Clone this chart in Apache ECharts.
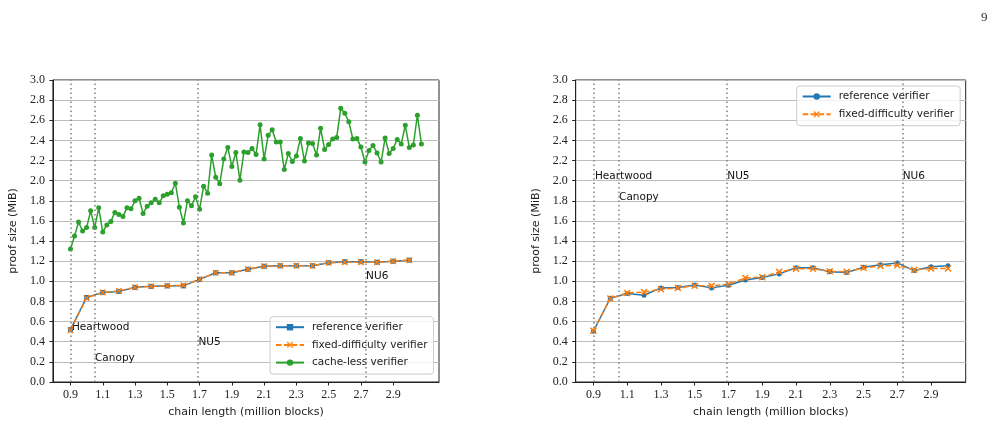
<!DOCTYPE html>
<html>
<head>
<meta charset="utf-8">
<script src="https://cdn.jsdelivr.net/npm/echarts@6/dist/echarts.min.js"></script>
<style>
  html, body { margin: 0; padding: 0; background: #fff; }
  .panel { position: absolute; top: 0; width: 503px; height: 427px; }
  #left { left: 0; }
  #right { left: 503px; }
</style>
</head>
<body>
<div id="left" class="panel"></div>
<div id="right" class="panel"></div>
<script>
// chain length (million blocks) for the sampled verifiers
const blockX = [0.9, 1.0, 1.1, 1.2, 1.3, 1.4, 1.5, 1.6, 1.7, 1.8, 1.9,
  2.0, 2.1, 2.2, 2.3, 2.4, 2.5, 2.6, 2.7, 2.8, 2.9, 3.0];

// cache-less verifier is sampled more densely
const cachelessX = [0.9, 0.925, 0.95, 0.975, 1.0, 1.025, 1.05, 1.075, 1.1, 1.125,
  1.15, 1.175, 1.2, 1.225, 1.25, 1.275, 1.3, 1.325, 1.35, 1.375,
  1.4, 1.425, 1.45, 1.475, 1.5, 1.525, 1.55, 1.575, 1.6, 1.625,
  1.65, 1.675, 1.7, 1.725, 1.75, 1.775, 1.8, 1.825, 1.85, 1.875,
  1.9, 1.925, 1.95, 1.975, 2.0, 2.025, 2.05, 2.075, 2.1, 2.125,
  2.15, 2.175, 2.2, 2.225, 2.25, 2.275, 2.3, 2.325, 2.35, 2.375,
  2.4, 2.425, 2.45, 2.475, 2.5, 2.525, 2.55, 2.575, 2.6, 2.625,
  2.65, 2.675, 2.7, 2.725, 2.75, 2.775, 2.8, 2.825, 2.85, 2.875,
  2.9, 2.925, 2.95, 2.975, 3.0, 3.025, 3.05, 3.075];

// left panel (MiB)
const refLeft = [0.52, 0.84, 0.89, 0.90, 0.94, 0.95, 0.955, 0.955, 1.02, 1.085, 1.085,
  1.12, 1.15, 1.155, 1.155, 1.155, 1.185, 1.195, 1.195, 1.19, 1.2, 1.21];
const fixedLeft = [0.515, 0.835, 0.89, 0.905, 0.94, 0.95, 0.955, 0.96, 1.02, 1.085, 1.085,
  1.12, 1.15, 1.155, 1.155, 1.155, 1.185, 1.19, 1.19, 1.19, 1.2, 1.21];
const cachelessLeft = [1.32, 1.45, 1.59, 1.50, 1.535, 1.70, 1.535, 1.73, 1.49, 1.56,
  1.595, 1.685, 1.665, 1.645, 1.73, 1.72, 1.80, 1.825, 1.675, 1.745,
  1.78, 1.815, 1.78, 1.85, 1.865, 1.88, 1.975, 1.735, 1.58, 1.80,
  1.75, 1.84, 1.715, 1.945, 1.875, 2.255, 2.035, 1.97, 2.215, 2.33,
  2.14, 2.28, 2.005, 2.285, 2.28, 2.32, 2.26, 2.555, 2.215, 2.45,
  2.505, 2.385, 2.385, 2.11, 2.27, 2.19, 2.245, 2.42, 2.195, 2.375,
  2.37, 2.255, 2.52, 2.31, 2.36, 2.415, 2.43, 2.72, 2.67, 2.585,
  2.415, 2.42, 2.335, 2.185, 2.30, 2.35, 2.275, 2.185, 2.425, 2.27,
  2.32, 2.41, 2.365, 2.55, 2.33, 2.355, 2.65, 2.365];

// right panel (MiB)
const refRight = [0.505, 0.832, 0.878, 0.862, 0.935, 0.938, 0.963, 0.935, 0.961, 1.014, 1.038,
  1.074, 1.135, 1.135, 1.094, 1.087, 1.14, 1.165, 1.183, 1.107, 1.144, 1.155];
const fixedRight = [0.51, 0.829, 0.885, 0.893, 0.922, 0.935, 0.955, 0.955, 0.971, 1.034, 1.041,
  1.094, 1.125, 1.125, 1.10, 1.094, 1.134, 1.152, 1.16, 1.114, 1.127, 1.127];

// network upgrades
const upgradeNames = ['Heartwood', 'Canopy', 'NU5', 'NU6'];
const upgradeX = [0.903, 1.046, 1.687, 2.726];
const upgradeLabelYLeft = [0.545, 0.232, 0.397, 1.046];
const upgradeLabelYRight = [2.045, 1.833, 2.045, 2.045];

const xTicks = [0.9, 1.1, 1.3, 1.5, 1.7, 1.9, 2.1, 2.3, 2.5, 2.7, 2.9];

const BLUE = '#1f77b4';
const ORANGE = '#ff7f0e';
const GREEN = '#2ca02c';
const SERIF = 'Liberation Serif';
const SANS = 'DejaVu Sans';
const X_MARK = 'path://M1.5,0 L5,3.5 L8.5,0 L10,1.5 L6.5,5 L10,8.5 L8.5,10 L5,6.5 L1.5,10 L0,8.5 L3.5,5 L0,1.5 Z';

const zip = (xs, ys) => xs.map((x, i) => [x, ys[i]]);

function buildOption(cfg) {
  const series = [
    {
      type: 'scatter',
      name: 'upgrades',
      silent: true,
      symbolSize: 0,
      itemStyle: { opacity: 1 },
      data: upgradeNames.map((n, i) => ({ name: n, value: [upgradeX[i], cfg.labelY[i]] })),
      label: {
        show: true, position: 'right', distance: 1,
        formatter: p => p.name,
        fontFamily: SANS, fontSize: 10.5, color: '#111'
      },
      markLine: {
        silent: true,
        symbol: 'none',
        animation: false,
        label: { show: false },
        lineStyle: { type: [1.5, 3], color: '#808080', width: 1.5 },
        data: upgradeX.map(x => ({ xAxis: x }))
      }
    },
    {
      name: 'reference verifier',
      type: 'line',
      data: zip(blockX, cfg.ref),
      symbol: cfg.refSymbol,
      symbolSize: 5,
      lineStyle: { width: 1.5, color: BLUE },
      itemStyle: { color: BLUE }
    },
    {
      name: 'fixed-difficulty verifier',
      type: 'line',
      data: zip(blockX, cfg.fixed),
      symbol: X_MARK,
      symbolSize: cfg.xSize,
      lineStyle: { width: 1.5, color: ORANGE, type: [5.5, 2.4] },
      itemStyle: { color: ORANGE }
    }
  ];
  if (cfg.cacheless) {
    series.push({
      name: 'cache-less verifier',
      type: 'line',
      data: zip(cachelessX, cfg.cacheless),
      symbol: 'circle',
      symbolSize: 5,
      lineStyle: { width: 1.5, color: GREEN },
      itemStyle: { color: GREEN }
    });
  }

  return {
    animation: false,
    title: cfg.title || undefined,
    grid: {
      left: cfg.grid.left, top: 80, width: cfg.grid.width, height: 302,
      show: true, borderColor: '#222', borderWidth: 1, backgroundColor: 'transparent'
    },
    legend: {
      orient: 'vertical',
      left: cfg.legend.left,
      top: cfg.legend.top,
      itemWidth: 28,
      itemHeight: 8,
      itemGap: 4.7,
      padding: [4, 6, 5, 5],
      backgroundColor: 'rgba(255,255,255,0.8)',
      borderColor: '#cccccc',
      borderWidth: 1,
      borderRadius: 3,
      textStyle: { fontFamily: SANS, fontSize: 10.5, color: '#222', lineHeight: 13, padding: [0, 0, 0, 3] },
      data: series.filter(s => s.type === 'line').map(s => s.name)
    },
    xAxis: {
      type: 'value',
      min: cfg.xMin,
      max: cfg.xMax,
      name: 'chain length (million blocks)',
      nameLocation: 'middle',
      nameGap: 25,
      nameTextStyle: { fontFamily: SANS, fontSize: 11, color: '#222' },
      axisLine: { show: true, lineStyle: { color: '#222', width: 1 } },
      axisTick: { show: true, length: 3.5, lineStyle: { color: '#222' }, customValues: xTicks },
      axisLabel: {
        customValues: xTicks,
        formatter: v => v.toFixed(1),
        margin: 7,
        fontFamily: SERIF, fontSize: 12, color: '#222'
      },
      splitLine: { show: false }
    },
    yAxis: {
      type: 'value',
      min: 0,
      max: 3,
      interval: 0.2,
      name: 'proof size (MiB)',
      nameLocation: 'middle',
      nameGap: cfg.yNameGap,
      nameTextStyle: { fontFamily: SANS, fontSize: 11, color: '#222' },
      axisLine: { show: true, lineStyle: { color: '#222', width: 1 } },
      axisTick: { show: true, length: 3.5, lineStyle: { color: '#222' } },
      axisLabel: {
        formatter: v => v.toFixed(1),
        margin: 8,
        fontFamily: SERIF, fontSize: 12, color: '#222'
      },
      splitLine: { show: true, lineStyle: { color: '#bdbdbd', width: 1 } }
    },
    series: series
  };
}

const leftChart = echarts.init(document.getElementById('left'));
leftChart.setOption(buildOption({
  grid: { left: 49.7, width: 389.3 },
  xMin: 0.791, xMax: 3.184,
  ref: refLeft, fixed: fixedLeft, cacheless: cachelessLeft,
  refSymbol: 'rect', xSize: 6.5,
  labelY: upgradeLabelYLeft,
  legend: { left: 270, top: 316.7 },
  yNameGap: 32
}));

const rightChart = echarts.init(document.getElementById('right'));
rightChart.setOption(buildOption({
  grid: { left: 72.7, width: 390 },
  xMin: 0.795, xMax: 3.105,
  ref: refRight, fixed: fixedRight,
  refSymbol: 'circle', xSize: 7,
  labelY: upgradeLabelYRight,
  legend: { left: 293.7, top: 86 },
  yNameGap: 29,
  title: {
    text: '9', left: 473, top: 6,
    textStyle: { fontFamily: SERIF, fontSize: 13, fontWeight: 'normal', color: '#333' }
  }
}));

window.addEventListener('resize', () => {
  leftChart.resize();
  rightChart.resize();
});
</script>
</body>
</html>
